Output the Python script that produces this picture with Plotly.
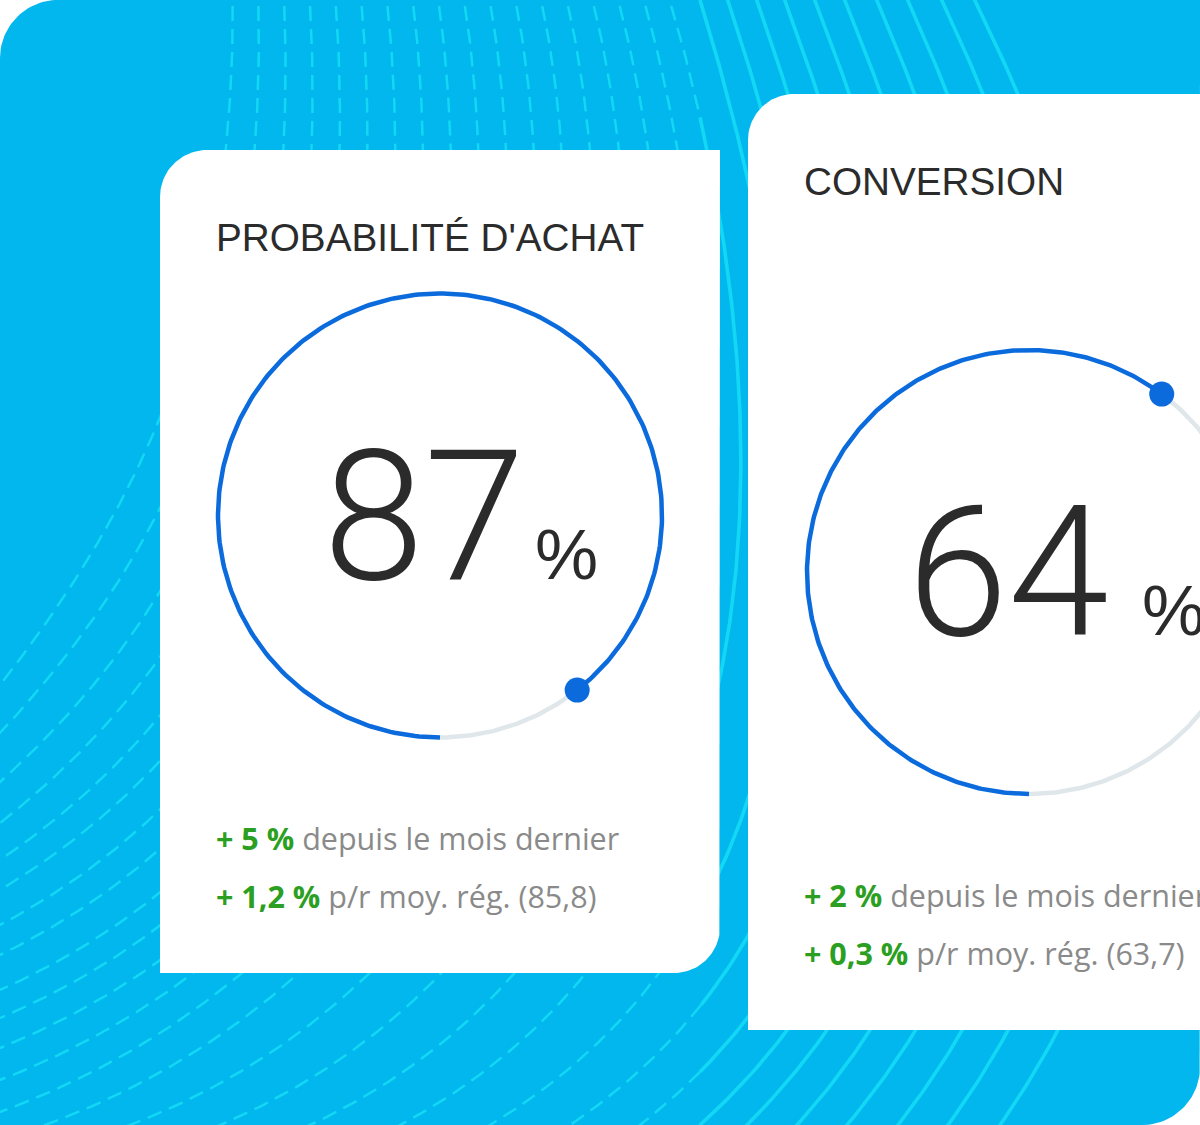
import numpy as np
import plotly.graph_objects as go

# ------------------------------------------------------------------ data
titles = ["PROBABILITÉ D'ACHAT", "CONVERSION"]
kpi_values = [87, 64]                 # displayed KPI value (%)
gauge_fill_pct = [89.4, 60.2]         # share of the ring drawn in blue
delta_month = ["+ 5 %", "+ 2 %"]
delta_region = ["+ 1,2 %", "+ 0,3 %"]
region_avg = ["85,8", "63,7"]
month_label = "depuis le mois dernier"
region_label = "p/r moy. rég."

# ------------------------------------------------------------------ style / layout
W, H = 1200, 1125
BG_BLUE = "#02b7ee"
LINE_CYAN = "#12d8f5"
CARD = "white"
RING_BLUE = "#0b6bdd"
RING_GRAY = "#e0e7eb"
GREEN = "#2b9f22"
GRAY_TXT = "#8a8a8a"
DARK = "#2b2b2b"

cards = [dict(x0=160, y0=150, x1=720, y1=973, rtl=47, rbr=46),
         dict(x0=748, y0=94, x1=1300, y1=1030, rtl=46, rbr=0)]
gauges = [dict(cx=440, cy=515.5, r=222), dict(cx=1029, cy=572, r=222)]
num_left = [321, 905]
pct_left = [533, 1140]


def rounded_rect(x0, y0, x1, y1, rtl=0, rtr=0, rbr=0, rbl=0, n=30):
    pts = []

    def corner(cx, cy, r, a0, a1):
        if r == 0:
            return [(cx, cy)]
        a = np.radians(np.linspace(a0, a1, n))
        return list(zip(cx + r * np.cos(a), cy + r * np.sin(a)))

    pts += corner(x0 + rtl, y0 + rtl, rtl, 180, 270)
    pts += corner(x1 - rtr, y0 + rtr, rtr, 270, 360)
    pts += corner(x1 - rbr, y1 - rbr, rbr, 0, 90)
    pts += corner(x0 + rbl, y1 - rbl, rbl, 90, 180)
    pts.append(pts[0])
    xs, ys = zip(*pts)
    return list(xs), list(ys)


def bezier(P0, P1, P2, P3, n=220):
    t = np.linspace(0, 1, n)[:, None]
    return ((1 - t) ** 3) * P0 + 3 * ((1 - t) ** 2) * t * P1 + 3 * (1 - t) * t ** 2 * P2 + t ** 3 * P3


fig = go.Figure()

# background panel
bx, by = rounded_rect(0, 0, W, H, rtl=58, rbr=58)
fig.add_trace(go.Scatter(x=bx, y=by, fill="toself", fillcolor=BG_BLUE, mode="lines",
                         line=dict(width=0, color=BG_BLUE), hoverinfo="skip"))

# decorative curved line pattern
top_x = list(233 + 25.7 * np.arange(18)) + [700, 728, 757, 785, 815, 845, 877, 908, 942, 975]
theta = np.radians(0.95 * np.arange(len(top_x)))
left_y = [685, 733, 782, 823, 860, 890, 925, 955, 990, 1018, 1048, 1080, 1112]
left_phi = [52, 47, 42, 38, 34, 31, 28, 26, 24, 23, 22, 21, 20]
bot_x = [45, 130, 220, 310, 400, 490, 570, 640, 700, 747, 797, 847, 898, 948, 1000]
bot_phi = [20, 21, 23, 25, 28, 31, 34, 38, 42, 45, 48, 50, 52, 54, 55]
ends = [((0, y), p) for y, p in zip(left_y, left_phi)] + [((x, H), p) for x, p in zip(bot_x, bot_phi)]

dash_x, dash_y, sol_x, sol_y = [], [], [], []
for k, xt in enumerate(top_x):
    S = np.array([xt, 0.0])
    ts = np.array([np.sin(theta[k]), np.cos(theta[k])])
    E = np.array(ends[k][0], dtype=float)
    ph = np.radians(ends[k][1])
    te = np.array([-np.cos(ph), np.sin(ph)])
    d = np.linalg.norm(E - S)
    h = 0.38 * d
    pts = bezier(S, S + h * ts, E - h * te, E)
    pts = np.vstack([S - 40 * ts, pts, E + 40 * te])
    cur = None
    for i in range(len(pts) - 1):
        mid = 0.5 * (pts[i, 0] + pts[i + 1, 0])
        cls = "d" if mid < 700 else "s"
        tx, ty = (dash_x, dash_y) if cls == "d" else (sol_x, sol_y)
        if cls != cur:
            if cur is not None:
                px, py = (dash_x, dash_y) if cur == "d" else (sol_x, sol_y)
                px.append(None); py.append(None)
            tx.append(pts[i, 0]); ty.append(pts[i, 1])
            cur = cls
        tx.append(pts[i + 1, 0]); ty.append(pts[i + 1, 1])
    px, py = (dash_x, dash_y) if cur == "d" else (sol_x, sol_y)
    px.append(None); py.append(None)

fig.add_trace(go.Scatter(x=dash_x, y=dash_y, mode="lines", hoverinfo="skip",
                         line=dict(color=LINE_CYAN, width=2.5, dash="15px,8px")))
fig.add_trace(go.Scatter(x=sol_x, y=sol_y, mode="lines", hoverinfo="skip",
                         line=dict(color=LINE_CYAN, width=3.6)))

# cards
for c in cards:
    cx_, cy_ = rounded_rect(c["x0"], c["y0"], c["x1"], c["y1"], rtl=c["rtl"], rbr=c["rbr"])
    fig.add_trace(go.Scatter(x=cx_, y=cy_, fill="toself", fillcolor=CARD, mode="lines",
                             line=dict(width=0, color=CARD), hoverinfo="skip"))

# gauges (angle measured clockwise from the bottom of the ring)
for g, pct in zip(gauges, gauge_fill_pct):
    A = 3.6 * pct
    a_blue = np.radians(np.linspace(0, A, 300))
    a_gray = np.radians(np.linspace(A, 360, 200))
    fx = lambda a: g["cx"] - g["r"] * np.sin(a)
    fy = lambda a: g["cy"] + g["r"] * np.cos(a)
    fig.add_trace(go.Scatter(x=fx(a_gray), y=fy(a_gray), mode="lines", hoverinfo="skip",
                             line=dict(color=RING_GRAY, width=4.5)))
    fig.add_trace(go.Scatter(x=fx(a_blue), y=fy(a_blue), mode="lines", hoverinfo="skip",
                             line=dict(color=RING_BLUE, width=4.5)))
    fig.add_trace(go.Scatter(x=[fx(np.radians(A))], y=[fy(np.radians(A))], mode="markers",
                             hoverinfo="skip", marker=dict(color=RING_BLUE, size=25)))

# texts
ann = []
for i, c in enumerate(cards):
    g = gauges[i]
    ann.append(dict(x=c["x0"] + 54, y=c["y0"] + 87.5, text=titles[i], xanchor="left", yanchor="middle",
                    font=dict(family="Liberation Sans, Arial", size=38.7, color=DARK)))
    base = g["cy"] + 64.5
    ann.append(dict(x=num_left[i], y=base - 64, text=str(kpi_values[i]), xanchor="left", yanchor="middle",
                    font=dict(family="Roboto, Liberation Sans", size=182, color=DARK, weight=300)))
    ann.append(dict(x=pct_left[i], y=base - 26, text="%", xanchor="left", yanchor="middle",
                    font=dict(family="Liberation Sans, Arial", size=71, color=DARK)))
    ann.append(dict(x=c["x0"] + 54, y=c["y1"] - 125 - 10,
                    text=f"<b><span style='color:{GREEN}'>{delta_month[i]}</span></b> {month_label}",
                    xanchor="left", yanchor="middle",
                    font=dict(family="Open Sans, Noto Sans", size=30.5, color=GRAY_TXT)))
    ann.append(dict(x=c["x0"] + 54, y=c["y1"] - 67 - 10,
                    text=f"<b><span style='color:{GREEN}'>{delta_region[i]}</span></b> {region_label} ({region_avg[i]})",
                    xanchor="left", yanchor="middle",
                    font=dict(family="Open Sans, Noto Sans", size=30.5, color=GRAY_TXT)))
for a in ann:
    a.update(xref="x", yref="y", showarrow=False)

fig.update_layout(
    width=W, height=H, margin=dict(l=0, r=0, t=0, b=0, pad=0),
    paper_bgcolor="white", plot_bgcolor="white", showlegend=False,
    xaxis=dict(range=[0, W], visible=False, fixedrange=True),
    yaxis=dict(range=[H, 0], visible=False, fixedrange=True),
    annotations=ann,
)

fig.write_html("out.html", config={"displayModeBar": False},
               post_script="document.body.style.margin='0px';")
